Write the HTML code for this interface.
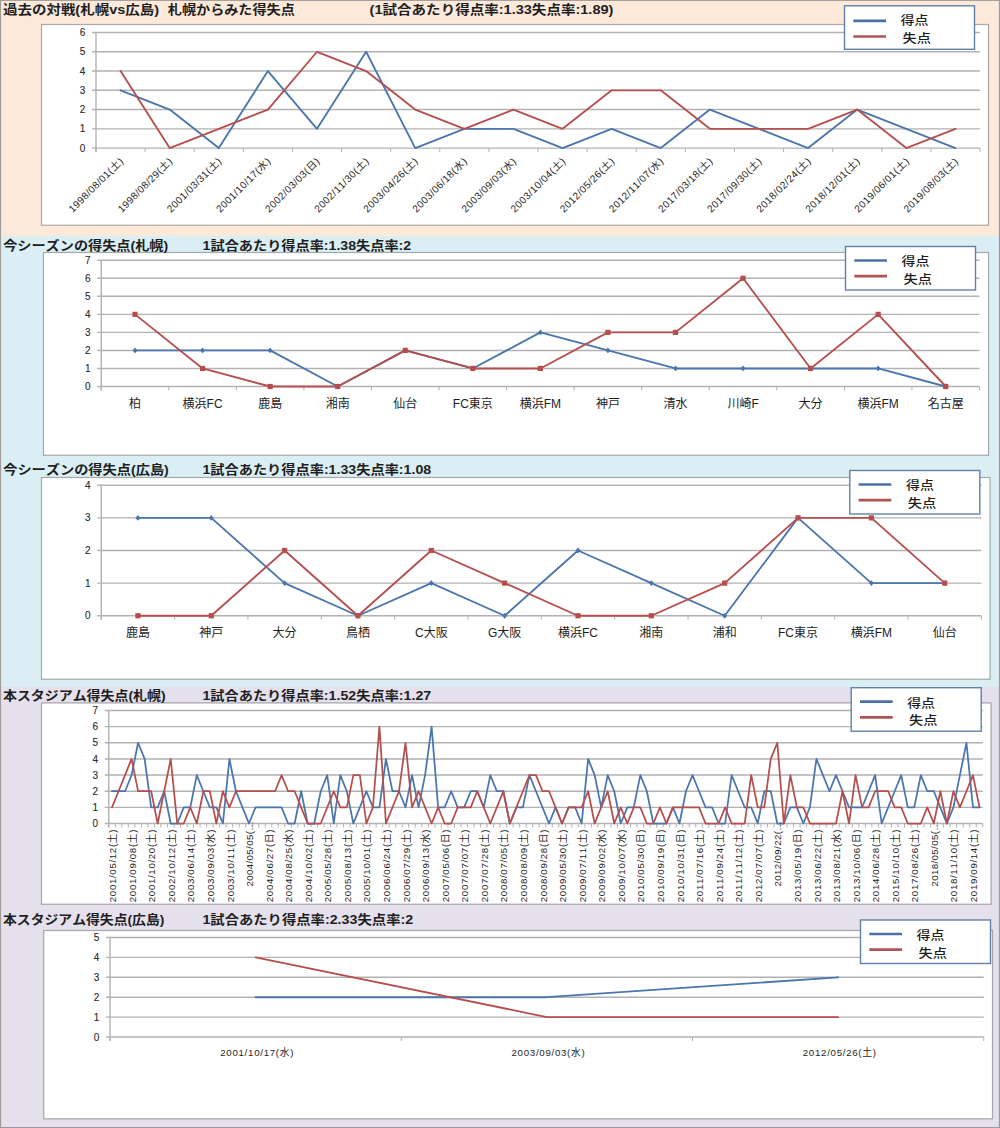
<!DOCTYPE html>
<html lang="ja"><head><meta charset="utf-8"><title>得失点</title>
<style>
html,body{margin:0;padding:0;background:#fff;}
body{width:1000px;height:1128px;overflow:hidden;}
svg{display:block;}
text{font-kerning:none;}
</style></head><body>
<svg width="1000" height="1128" viewBox="0 0 1000 1128">
<rect x="0" y="0" width="1000" height="236" fill="#FCE9DA"/>
<rect x="0" y="236" width="1000" height="451" fill="#DAEEF3"/>
<rect x="0" y="687" width="1000" height="441" fill="#E4E0EC"/>
<line x1="0.5" y1="0" x2="0.5" y2="1128" stroke="#A09A98" stroke-width="1.2"/>
<line x1="999.5" y1="0" x2="999.5" y2="1128" stroke="#9A98A0" stroke-width="1.2"/>
<line x1="0" y1="0.5" x2="1000" y2="0.5" stroke="#A8A09C" stroke-width="1"/>
<line x1="0" y1="1127.5" x2="1000" y2="1127.5" stroke="#9A98A0" stroke-width="1"/>
<rect x="41.5" y="24.5" width="947" height="200.7" fill="#FFFFFF" stroke="rgba(0,0,0,0.31)" stroke-width="1.2"/>
<line x1="92" y1="148.1" x2="980" y2="148.1" stroke="#B2B2B2" stroke-width="1.4"/>
<text x="85.4" y="151.7" font-size="10" text-anchor="end" font-weight="normal" font-family="'Liberation Sans', 'Noto Sans CJK JP', sans-serif" fill="#1E1E1E" stroke="#444" stroke-width="0.12">0</text>
<line x1="92" y1="128.83" x2="980" y2="128.83" stroke="#B2B2B2" stroke-width="1.4"/>
<text x="85.4" y="132.43" font-size="10" text-anchor="end" font-weight="normal" font-family="'Liberation Sans', 'Noto Sans CJK JP', sans-serif" fill="#1E1E1E" stroke="#444" stroke-width="0.12">1</text>
<line x1="92" y1="109.57" x2="980" y2="109.57" stroke="#B2B2B2" stroke-width="1.4"/>
<text x="85.4" y="113.17" font-size="10" text-anchor="end" font-weight="normal" font-family="'Liberation Sans', 'Noto Sans CJK JP', sans-serif" fill="#1E1E1E" stroke="#444" stroke-width="0.12">2</text>
<line x1="92" y1="90.3" x2="980" y2="90.3" stroke="#B2B2B2" stroke-width="1.4"/>
<text x="85.4" y="93.9" font-size="10" text-anchor="end" font-weight="normal" font-family="'Liberation Sans', 'Noto Sans CJK JP', sans-serif" fill="#1E1E1E" stroke="#444" stroke-width="0.12">3</text>
<line x1="92" y1="71.03" x2="980" y2="71.03" stroke="#B2B2B2" stroke-width="1.4"/>
<text x="85.4" y="74.63" font-size="10" text-anchor="end" font-weight="normal" font-family="'Liberation Sans', 'Noto Sans CJK JP', sans-serif" fill="#1E1E1E" stroke="#444" stroke-width="0.12">4</text>
<line x1="92" y1="51.77" x2="980" y2="51.77" stroke="#B2B2B2" stroke-width="1.4"/>
<text x="85.4" y="55.37" font-size="10" text-anchor="end" font-weight="normal" font-family="'Liberation Sans', 'Noto Sans CJK JP', sans-serif" fill="#1E1E1E" stroke="#444" stroke-width="0.12">5</text>
<line x1="92" y1="32.5" x2="980" y2="32.5" stroke="#B2B2B2" stroke-width="1.4"/>
<text x="85.4" y="36.1" font-size="10" text-anchor="end" font-weight="normal" font-family="'Liberation Sans', 'Noto Sans CJK JP', sans-serif" fill="#1E1E1E" stroke="#444" stroke-width="0.12">6</text>
<line x1="96" y1="32.5" x2="96" y2="152.1" stroke="#B2B2B2" stroke-width="1.4"/>
<line x1="96" y1="148.1" x2="96" y2="152.1" stroke="#B2B2B2" stroke-width="1"/>
<line x1="145.11" y1="148.1" x2="145.11" y2="152.1" stroke="#B2B2B2" stroke-width="1"/>
<line x1="194.22" y1="148.1" x2="194.22" y2="152.1" stroke="#B2B2B2" stroke-width="1"/>
<line x1="243.33" y1="148.1" x2="243.33" y2="152.1" stroke="#B2B2B2" stroke-width="1"/>
<line x1="292.44" y1="148.1" x2="292.44" y2="152.1" stroke="#B2B2B2" stroke-width="1"/>
<line x1="341.56" y1="148.1" x2="341.56" y2="152.1" stroke="#B2B2B2" stroke-width="1"/>
<line x1="390.67" y1="148.1" x2="390.67" y2="152.1" stroke="#B2B2B2" stroke-width="1"/>
<line x1="439.78" y1="148.1" x2="439.78" y2="152.1" stroke="#B2B2B2" stroke-width="1"/>
<line x1="488.89" y1="148.1" x2="488.89" y2="152.1" stroke="#B2B2B2" stroke-width="1"/>
<line x1="538" y1="148.1" x2="538" y2="152.1" stroke="#B2B2B2" stroke-width="1"/>
<line x1="587.11" y1="148.1" x2="587.11" y2="152.1" stroke="#B2B2B2" stroke-width="1"/>
<line x1="636.22" y1="148.1" x2="636.22" y2="152.1" stroke="#B2B2B2" stroke-width="1"/>
<line x1="685.33" y1="148.1" x2="685.33" y2="152.1" stroke="#B2B2B2" stroke-width="1"/>
<line x1="734.44" y1="148.1" x2="734.44" y2="152.1" stroke="#B2B2B2" stroke-width="1"/>
<line x1="783.56" y1="148.1" x2="783.56" y2="152.1" stroke="#B2B2B2" stroke-width="1"/>
<line x1="832.67" y1="148.1" x2="832.67" y2="152.1" stroke="#B2B2B2" stroke-width="1"/>
<line x1="881.78" y1="148.1" x2="881.78" y2="152.1" stroke="#B2B2B2" stroke-width="1"/>
<line x1="930.89" y1="148.1" x2="930.89" y2="152.1" stroke="#B2B2B2" stroke-width="1"/>
<line x1="980" y1="148.1" x2="980" y2="152.1" stroke="#B2B2B2" stroke-width="1"/>
<polyline points="120.56,90.3 169.67,109.57 218.78,148.1 267.89,71.03 317,128.83 366.11,51.77 415.22,148.1 464.33,128.83 513.44,128.83 562.56,148.1 611.67,128.83 660.78,148.1 709.89,109.57 759,128.83 808.11,148.1 857.22,109.57 906.33,128.83 955.44,148.1" fill="none" stroke="#4A76AD" stroke-width="1.85" stroke-linejoin="round" stroke-linecap="round"/>
<polyline points="120.56,71.03 169.67,148.1 218.78,128.83 267.89,109.57 317,51.77 366.11,71.03 415.22,109.57 464.33,128.83 513.44,109.57 562.56,128.83 611.67,90.3 660.78,90.3 709.89,128.83 759,128.83 808.11,128.83 857.22,109.57 906.33,148.1 955.44,128.83" fill="none" stroke="#B64E4D" stroke-width="1.85" stroke-linejoin="round" stroke-linecap="round"/>
<text x="123.76" y="162" font-size="10" text-anchor="end" font-weight="normal" font-family="'Liberation Sans', 'Noto Sans CJK JP', sans-serif" fill="#1E1E1E" textLength="72" lengthAdjust="spacing" transform="rotate(-45 123.76 162)">1998/08/01(土)</text>
<text x="172.87" y="162" font-size="10" text-anchor="end" font-weight="normal" font-family="'Liberation Sans', 'Noto Sans CJK JP', sans-serif" fill="#1E1E1E" textLength="72" lengthAdjust="spacing" transform="rotate(-45 172.87 162)">1998/08/29(土)</text>
<text x="221.98" y="162" font-size="10" text-anchor="end" font-weight="normal" font-family="'Liberation Sans', 'Noto Sans CJK JP', sans-serif" fill="#1E1E1E" textLength="72" lengthAdjust="spacing" transform="rotate(-45 221.98 162)">2001/03/31(土)</text>
<text x="271.09" y="162" font-size="10" text-anchor="end" font-weight="normal" font-family="'Liberation Sans', 'Noto Sans CJK JP', sans-serif" fill="#1E1E1E" textLength="72" lengthAdjust="spacing" transform="rotate(-45 271.09 162)">2001/10/17(水)</text>
<text x="320.2" y="162" font-size="10" text-anchor="end" font-weight="normal" font-family="'Liberation Sans', 'Noto Sans CJK JP', sans-serif" fill="#1E1E1E" textLength="72" lengthAdjust="spacing" transform="rotate(-45 320.2 162)">2002/03/03(日)</text>
<text x="369.31" y="162" font-size="10" text-anchor="end" font-weight="normal" font-family="'Liberation Sans', 'Noto Sans CJK JP', sans-serif" fill="#1E1E1E" textLength="72" lengthAdjust="spacing" transform="rotate(-45 369.31 162)">2002/11/30(土)</text>
<text x="418.42" y="162" font-size="10" text-anchor="end" font-weight="normal" font-family="'Liberation Sans', 'Noto Sans CJK JP', sans-serif" fill="#1E1E1E" textLength="72" lengthAdjust="spacing" transform="rotate(-45 418.42 162)">2003/04/26(土)</text>
<text x="467.53" y="162" font-size="10" text-anchor="end" font-weight="normal" font-family="'Liberation Sans', 'Noto Sans CJK JP', sans-serif" fill="#1E1E1E" textLength="72" lengthAdjust="spacing" transform="rotate(-45 467.53 162)">2003/06/18(水)</text>
<text x="516.64" y="162" font-size="10" text-anchor="end" font-weight="normal" font-family="'Liberation Sans', 'Noto Sans CJK JP', sans-serif" fill="#1E1E1E" textLength="72" lengthAdjust="spacing" transform="rotate(-45 516.64 162)">2003/09/03(水)</text>
<text x="565.76" y="162" font-size="10" text-anchor="end" font-weight="normal" font-family="'Liberation Sans', 'Noto Sans CJK JP', sans-serif" fill="#1E1E1E" textLength="72" lengthAdjust="spacing" transform="rotate(-45 565.76 162)">2003/10/04(土)</text>
<text x="614.87" y="162" font-size="10" text-anchor="end" font-weight="normal" font-family="'Liberation Sans', 'Noto Sans CJK JP', sans-serif" fill="#1E1E1E" textLength="72" lengthAdjust="spacing" transform="rotate(-45 614.87 162)">2012/05/26(土)</text>
<text x="663.98" y="162" font-size="10" text-anchor="end" font-weight="normal" font-family="'Liberation Sans', 'Noto Sans CJK JP', sans-serif" fill="#1E1E1E" textLength="72" lengthAdjust="spacing" transform="rotate(-45 663.98 162)">2012/11/07(水)</text>
<text x="713.09" y="162" font-size="10" text-anchor="end" font-weight="normal" font-family="'Liberation Sans', 'Noto Sans CJK JP', sans-serif" fill="#1E1E1E" textLength="72" lengthAdjust="spacing" transform="rotate(-45 713.09 162)">2017/03/18(土)</text>
<text x="762.2" y="162" font-size="10" text-anchor="end" font-weight="normal" font-family="'Liberation Sans', 'Noto Sans CJK JP', sans-serif" fill="#1E1E1E" textLength="72" lengthAdjust="spacing" transform="rotate(-45 762.2 162)">2017/09/30(土)</text>
<text x="811.31" y="162" font-size="10" text-anchor="end" font-weight="normal" font-family="'Liberation Sans', 'Noto Sans CJK JP', sans-serif" fill="#1E1E1E" textLength="72" lengthAdjust="spacing" transform="rotate(-45 811.31 162)">2018/02/24(土)</text>
<text x="860.42" y="162" font-size="10" text-anchor="end" font-weight="normal" font-family="'Liberation Sans', 'Noto Sans CJK JP', sans-serif" fill="#1E1E1E" textLength="72" lengthAdjust="spacing" transform="rotate(-45 860.42 162)">2018/12/01(土)</text>
<text x="909.53" y="162" font-size="10" text-anchor="end" font-weight="normal" font-family="'Liberation Sans', 'Noto Sans CJK JP', sans-serif" fill="#1E1E1E" textLength="72" lengthAdjust="spacing" transform="rotate(-45 909.53 162)">2019/06/01(土)</text>
<text x="958.64" y="162" font-size="10" text-anchor="end" font-weight="normal" font-family="'Liberation Sans', 'Noto Sans CJK JP', sans-serif" fill="#1E1E1E" textLength="72" lengthAdjust="spacing" transform="rotate(-45 958.64 162)">2019/08/03(土)</text>
<rect x="844.5" y="5.8" width="130" height="43.5" fill="#FFFFFF" stroke="#6381A8" stroke-width="1.4"/>
<line x1="853.3" y1="20.9" x2="886" y2="20.9" stroke="#4B70A5" stroke-width="2.7"/>
<line x1="853.3" y1="36.5" x2="886" y2="36.5" stroke="#AE5452" stroke-width="2.7"/>
<text x="900.6" y="25.45" font-size="12.3" text-anchor="start" font-weight="500" font-family="'Liberation Sans', 'Noto Sans CJK JP', sans-serif" fill="#1E1E1E" textLength="27.82" lengthAdjust="spacingAndGlyphs">得点</text>
<text x="902.4" y="43.15" font-size="12.3" text-anchor="start" font-weight="500" font-family="'Liberation Sans', 'Noto Sans CJK JP', sans-serif" fill="#1E1E1E" textLength="28.51" lengthAdjust="spacingAndGlyphs">失点</text>
<text x="3" y="13.75" font-size="12.8" text-anchor="start" font-weight="bold" font-family="'Liberation Sans', 'Noto Sans CJK JP', sans-serif" fill="#1E1E1E" textLength="156.01" lengthAdjust="spacingAndGlyphs">過去の対戦(札幌vs広島)</text>
<text x="167.8" y="13.75" font-size="12.8" text-anchor="start" font-weight="bold" font-family="'Liberation Sans', 'Noto Sans CJK JP', sans-serif" fill="#1E1E1E" textLength="126.99" lengthAdjust="spacingAndGlyphs">札幌からみた得失点</text>
<text x="369.6" y="13.75" font-size="12.8" text-anchor="start" font-weight="bold" font-family="'Liberation Sans', 'Noto Sans CJK JP', sans-serif" fill="#1E1E1E" textLength="243.81" lengthAdjust="spacingAndGlyphs">(1試合あたり得点率:1.33失点率:1.89)</text>
<rect x="43.5" y="252.5" width="945" height="202.7" fill="#FFFFFF" stroke="rgba(0,0,0,0.31)" stroke-width="1.2"/>
<line x1="97.25" y1="386.5" x2="979.5" y2="386.5" stroke="#B2B2B2" stroke-width="1.4"/>
<text x="90.65" y="390.1" font-size="10" text-anchor="end" font-weight="normal" font-family="'Liberation Sans', 'Noto Sans CJK JP', sans-serif" fill="#1E1E1E" stroke="#444" stroke-width="0.12">0</text>
<line x1="97.25" y1="368.46" x2="979.5" y2="368.46" stroke="#B2B2B2" stroke-width="1.4"/>
<text x="90.65" y="372.06" font-size="10" text-anchor="end" font-weight="normal" font-family="'Liberation Sans', 'Noto Sans CJK JP', sans-serif" fill="#1E1E1E" stroke="#444" stroke-width="0.12">1</text>
<line x1="97.25" y1="350.43" x2="979.5" y2="350.43" stroke="#B2B2B2" stroke-width="1.4"/>
<text x="90.65" y="354.03" font-size="10" text-anchor="end" font-weight="normal" font-family="'Liberation Sans', 'Noto Sans CJK JP', sans-serif" fill="#1E1E1E" stroke="#444" stroke-width="0.12">2</text>
<line x1="97.25" y1="332.39" x2="979.5" y2="332.39" stroke="#B2B2B2" stroke-width="1.4"/>
<text x="90.65" y="335.99" font-size="10" text-anchor="end" font-weight="normal" font-family="'Liberation Sans', 'Noto Sans CJK JP', sans-serif" fill="#1E1E1E" stroke="#444" stroke-width="0.12">3</text>
<line x1="97.25" y1="314.36" x2="979.5" y2="314.36" stroke="#B2B2B2" stroke-width="1.4"/>
<text x="90.65" y="317.96" font-size="10" text-anchor="end" font-weight="normal" font-family="'Liberation Sans', 'Noto Sans CJK JP', sans-serif" fill="#1E1E1E" stroke="#444" stroke-width="0.12">4</text>
<line x1="97.25" y1="296.32" x2="979.5" y2="296.32" stroke="#B2B2B2" stroke-width="1.4"/>
<text x="90.65" y="299.92" font-size="10" text-anchor="end" font-weight="normal" font-family="'Liberation Sans', 'Noto Sans CJK JP', sans-serif" fill="#1E1E1E" stroke="#444" stroke-width="0.12">5</text>
<line x1="97.25" y1="278.29" x2="979.5" y2="278.29" stroke="#B2B2B2" stroke-width="1.4"/>
<text x="90.65" y="281.89" font-size="10" text-anchor="end" font-weight="normal" font-family="'Liberation Sans', 'Noto Sans CJK JP', sans-serif" fill="#1E1E1E" stroke="#444" stroke-width="0.12">6</text>
<line x1="97.25" y1="260.25" x2="979.5" y2="260.25" stroke="#B2B2B2" stroke-width="1.4"/>
<text x="90.65" y="263.85" font-size="10" text-anchor="end" font-weight="normal" font-family="'Liberation Sans', 'Noto Sans CJK JP', sans-serif" fill="#1E1E1E" stroke="#444" stroke-width="0.12">7</text>
<line x1="101.25" y1="260.25" x2="101.25" y2="390.5" stroke="#B2B2B2" stroke-width="1.4"/>
<line x1="101.25" y1="386.5" x2="101.25" y2="390.5" stroke="#B2B2B2" stroke-width="1"/>
<line x1="168.81" y1="386.5" x2="168.81" y2="390.5" stroke="#B2B2B2" stroke-width="1"/>
<line x1="236.37" y1="386.5" x2="236.37" y2="390.5" stroke="#B2B2B2" stroke-width="1"/>
<line x1="303.92" y1="386.5" x2="303.92" y2="390.5" stroke="#B2B2B2" stroke-width="1"/>
<line x1="371.48" y1="386.5" x2="371.48" y2="390.5" stroke="#B2B2B2" stroke-width="1"/>
<line x1="439.04" y1="386.5" x2="439.04" y2="390.5" stroke="#B2B2B2" stroke-width="1"/>
<line x1="506.6" y1="386.5" x2="506.6" y2="390.5" stroke="#B2B2B2" stroke-width="1"/>
<line x1="574.15" y1="386.5" x2="574.15" y2="390.5" stroke="#B2B2B2" stroke-width="1"/>
<line x1="641.71" y1="386.5" x2="641.71" y2="390.5" stroke="#B2B2B2" stroke-width="1"/>
<line x1="709.27" y1="386.5" x2="709.27" y2="390.5" stroke="#B2B2B2" stroke-width="1"/>
<line x1="776.83" y1="386.5" x2="776.83" y2="390.5" stroke="#B2B2B2" stroke-width="1"/>
<line x1="844.38" y1="386.5" x2="844.38" y2="390.5" stroke="#B2B2B2" stroke-width="1"/>
<line x1="911.94" y1="386.5" x2="911.94" y2="390.5" stroke="#B2B2B2" stroke-width="1"/>
<line x1="979.5" y1="386.5" x2="979.5" y2="390.5" stroke="#B2B2B2" stroke-width="1"/>
<polyline points="135.03,350.43 202.59,350.43 270.14,350.43 337.7,386.5 405.26,350.43 472.82,368.46 540.38,332.39 607.93,350.43 675.49,368.46 743.05,368.46 810.61,368.46 878.16,368.46 945.72,386.5" fill="none" stroke="#4A76AD" stroke-width="1.85" stroke-linejoin="round" stroke-linecap="round"/>
<path d="M135.03 347.53L137.53 350.43L135.03 353.33L132.53 350.43Z" fill="#4A76AD"/>
<path d="M202.59 347.53L205.09 350.43L202.59 353.33L200.09 350.43Z" fill="#4A76AD"/>
<path d="M270.14 347.53L272.64 350.43L270.14 353.33L267.64 350.43Z" fill="#4A76AD"/>
<path d="M337.7 383.6L340.2 386.5L337.7 389.4L335.2 386.5Z" fill="#4A76AD"/>
<path d="M405.26 347.53L407.76 350.43L405.26 353.33L402.76 350.43Z" fill="#4A76AD"/>
<path d="M472.82 365.56L475.32 368.46L472.82 371.36L470.32 368.46Z" fill="#4A76AD"/>
<path d="M540.38 329.49L542.88 332.39L540.38 335.29L537.88 332.39Z" fill="#4A76AD"/>
<path d="M607.93 347.53L610.43 350.43L607.93 353.33L605.43 350.43Z" fill="#4A76AD"/>
<path d="M675.49 365.56L677.99 368.46L675.49 371.36L672.99 368.46Z" fill="#4A76AD"/>
<path d="M743.05 365.56L745.55 368.46L743.05 371.36L740.55 368.46Z" fill="#4A76AD"/>
<path d="M810.61 365.56L813.11 368.46L810.61 371.36L808.11 368.46Z" fill="#4A76AD"/>
<path d="M878.16 365.56L880.66 368.46L878.16 371.36L875.66 368.46Z" fill="#4A76AD"/>
<path d="M945.72 383.6L948.22 386.5L945.72 389.4L943.22 386.5Z" fill="#4A76AD"/>
<polyline points="135.03,314.36 202.59,368.46 270.14,386.5 337.7,386.5 405.26,350.43 472.82,368.46 540.38,368.46 607.93,332.39 675.49,332.39 743.05,278.29 810.61,368.46 878.16,314.36 945.72,386.5" fill="none" stroke="#B64E4D" stroke-width="1.85" stroke-linejoin="round" stroke-linecap="round"/>
<rect x="132.43" y="311.76" width="5.2" height="5.2" fill="#B64E4D"/>
<rect x="199.99" y="365.86" width="5.2" height="5.2" fill="#B64E4D"/>
<rect x="267.54" y="383.9" width="5.2" height="5.2" fill="#B64E4D"/>
<rect x="335.1" y="383.9" width="5.2" height="5.2" fill="#B64E4D"/>
<rect x="402.66" y="347.83" width="5.2" height="5.2" fill="#B64E4D"/>
<rect x="470.22" y="365.86" width="5.2" height="5.2" fill="#B64E4D"/>
<rect x="537.77" y="365.86" width="5.2" height="5.2" fill="#B64E4D"/>
<rect x="605.33" y="329.79" width="5.2" height="5.2" fill="#B64E4D"/>
<rect x="672.89" y="329.79" width="5.2" height="5.2" fill="#B64E4D"/>
<rect x="740.45" y="275.69" width="5.2" height="5.2" fill="#B64E4D"/>
<rect x="808.01" y="365.86" width="5.2" height="5.2" fill="#B64E4D"/>
<rect x="875.56" y="311.76" width="5.2" height="5.2" fill="#B64E4D"/>
<rect x="943.12" y="383.9" width="5.2" height="5.2" fill="#B64E4D"/>
<text x="135.03" y="407.8" font-size="12" text-anchor="middle" font-weight="normal" font-family="'Liberation Sans', 'Noto Sans CJK JP', sans-serif" fill="#1E1E1E">柏</text>
<text x="202.59" y="407.8" font-size="12" text-anchor="middle" font-weight="normal" font-family="'Liberation Sans', 'Noto Sans CJK JP', sans-serif" fill="#1E1E1E">横浜FC</text>
<text x="270.14" y="407.8" font-size="12" text-anchor="middle" font-weight="normal" font-family="'Liberation Sans', 'Noto Sans CJK JP', sans-serif" fill="#1E1E1E">鹿島</text>
<text x="337.7" y="407.8" font-size="12" text-anchor="middle" font-weight="normal" font-family="'Liberation Sans', 'Noto Sans CJK JP', sans-serif" fill="#1E1E1E">湘南</text>
<text x="405.26" y="407.8" font-size="12" text-anchor="middle" font-weight="normal" font-family="'Liberation Sans', 'Noto Sans CJK JP', sans-serif" fill="#1E1E1E">仙台</text>
<text x="472.82" y="407.8" font-size="12" text-anchor="middle" font-weight="normal" font-family="'Liberation Sans', 'Noto Sans CJK JP', sans-serif" fill="#1E1E1E">FC東京</text>
<text x="540.38" y="407.8" font-size="12" text-anchor="middle" font-weight="normal" font-family="'Liberation Sans', 'Noto Sans CJK JP', sans-serif" fill="#1E1E1E">横浜FM</text>
<text x="607.93" y="407.8" font-size="12" text-anchor="middle" font-weight="normal" font-family="'Liberation Sans', 'Noto Sans CJK JP', sans-serif" fill="#1E1E1E">神戸</text>
<text x="675.49" y="407.8" font-size="12" text-anchor="middle" font-weight="normal" font-family="'Liberation Sans', 'Noto Sans CJK JP', sans-serif" fill="#1E1E1E">清水</text>
<text x="743.05" y="407.8" font-size="12" text-anchor="middle" font-weight="normal" font-family="'Liberation Sans', 'Noto Sans CJK JP', sans-serif" fill="#1E1E1E">川崎F</text>
<text x="810.61" y="407.8" font-size="12" text-anchor="middle" font-weight="normal" font-family="'Liberation Sans', 'Noto Sans CJK JP', sans-serif" fill="#1E1E1E">大分</text>
<text x="878.16" y="407.8" font-size="12" text-anchor="middle" font-weight="normal" font-family="'Liberation Sans', 'Noto Sans CJK JP', sans-serif" fill="#1E1E1E">横浜FM</text>
<text x="945.72" y="407.8" font-size="12" text-anchor="middle" font-weight="normal" font-family="'Liberation Sans', 'Noto Sans CJK JP', sans-serif" fill="#1E1E1E">名古屋</text>
<rect x="845.5" y="246.5" width="130" height="43.5" fill="#FFFFFF" stroke="#6381A8" stroke-width="1.4"/>
<line x1="854.3" y1="260.5" x2="887" y2="260.5" stroke="#4B70A5" stroke-width="2.7"/>
<line x1="854.3" y1="276.1" x2="887" y2="276.1" stroke="#AE5452" stroke-width="2.7"/>
<text x="901.6" y="266.05" font-size="12.3" text-anchor="start" font-weight="500" font-family="'Liberation Sans', 'Noto Sans CJK JP', sans-serif" fill="#1E1E1E" textLength="27.82" lengthAdjust="spacingAndGlyphs">得点</text>
<text x="903.4" y="283.75" font-size="12.3" text-anchor="start" font-weight="500" font-family="'Liberation Sans', 'Noto Sans CJK JP', sans-serif" fill="#1E1E1E" textLength="28.51" lengthAdjust="spacingAndGlyphs">失点</text>
<text x="3.2" y="249.6" font-size="12.8" text-anchor="start" font-weight="bold" font-family="'Liberation Sans', 'Noto Sans CJK JP', sans-serif" fill="#1E1E1E" textLength="164.99" lengthAdjust="spacingAndGlyphs">今シーズンの得失点(札幌)</text>
<text x="202.6" y="249.6" font-size="12.8" text-anchor="start" font-weight="bold" font-family="'Liberation Sans', 'Noto Sans CJK JP', sans-serif" fill="#1E1E1E" textLength="208.6" lengthAdjust="spacingAndGlyphs">1試合あたり得点率:1.38失点率:2</text>
<rect x="41.5" y="477.5" width="948.5" height="201.7" fill="#FFFFFF" stroke="rgba(0,0,0,0.31)" stroke-width="1.2"/>
<line x1="97.25" y1="615.75" x2="981.4" y2="615.75" stroke="#B2B2B2" stroke-width="1.4"/>
<text x="90.65" y="619.35" font-size="10" text-anchor="end" font-weight="normal" font-family="'Liberation Sans', 'Noto Sans CJK JP', sans-serif" fill="#1E1E1E" stroke="#444" stroke-width="0.12">0</text>
<line x1="97.25" y1="583.12" x2="981.4" y2="583.12" stroke="#B2B2B2" stroke-width="1.4"/>
<text x="90.65" y="586.73" font-size="10" text-anchor="end" font-weight="normal" font-family="'Liberation Sans', 'Noto Sans CJK JP', sans-serif" fill="#1E1E1E" stroke="#444" stroke-width="0.12">1</text>
<line x1="97.25" y1="550.5" x2="981.4" y2="550.5" stroke="#B2B2B2" stroke-width="1.4"/>
<text x="90.65" y="554.1" font-size="10" text-anchor="end" font-weight="normal" font-family="'Liberation Sans', 'Noto Sans CJK JP', sans-serif" fill="#1E1E1E" stroke="#444" stroke-width="0.12">2</text>
<line x1="97.25" y1="517.88" x2="981.4" y2="517.88" stroke="#B2B2B2" stroke-width="1.4"/>
<text x="90.65" y="521.48" font-size="10" text-anchor="end" font-weight="normal" font-family="'Liberation Sans', 'Noto Sans CJK JP', sans-serif" fill="#1E1E1E" stroke="#444" stroke-width="0.12">3</text>
<line x1="97.25" y1="485.25" x2="981.4" y2="485.25" stroke="#B2B2B2" stroke-width="1.4"/>
<text x="90.65" y="488.85" font-size="10" text-anchor="end" font-weight="normal" font-family="'Liberation Sans', 'Noto Sans CJK JP', sans-serif" fill="#1E1E1E" stroke="#444" stroke-width="0.12">4</text>
<line x1="101.25" y1="485.25" x2="101.25" y2="619.75" stroke="#B2B2B2" stroke-width="1.4"/>
<line x1="101.25" y1="615.75" x2="101.25" y2="619.75" stroke="#B2B2B2" stroke-width="1"/>
<line x1="174.6" y1="615.75" x2="174.6" y2="619.75" stroke="#B2B2B2" stroke-width="1"/>
<line x1="247.94" y1="615.75" x2="247.94" y2="619.75" stroke="#B2B2B2" stroke-width="1"/>
<line x1="321.29" y1="615.75" x2="321.29" y2="619.75" stroke="#B2B2B2" stroke-width="1"/>
<line x1="394.63" y1="615.75" x2="394.63" y2="619.75" stroke="#B2B2B2" stroke-width="1"/>
<line x1="467.98" y1="615.75" x2="467.98" y2="619.75" stroke="#B2B2B2" stroke-width="1"/>
<line x1="541.33" y1="615.75" x2="541.33" y2="619.75" stroke="#B2B2B2" stroke-width="1"/>
<line x1="614.67" y1="615.75" x2="614.67" y2="619.75" stroke="#B2B2B2" stroke-width="1"/>
<line x1="688.02" y1="615.75" x2="688.02" y2="619.75" stroke="#B2B2B2" stroke-width="1"/>
<line x1="761.36" y1="615.75" x2="761.36" y2="619.75" stroke="#B2B2B2" stroke-width="1"/>
<line x1="834.71" y1="615.75" x2="834.71" y2="619.75" stroke="#B2B2B2" stroke-width="1"/>
<line x1="908.05" y1="615.75" x2="908.05" y2="619.75" stroke="#B2B2B2" stroke-width="1"/>
<line x1="981.4" y1="615.75" x2="981.4" y2="619.75" stroke="#B2B2B2" stroke-width="1"/>
<polyline points="137.92,517.88 211.27,517.88 284.61,583.12 357.96,615.75 431.31,583.12 504.65,615.75 578,550.5 651.34,583.12 724.69,615.75 798.04,517.88 871.38,583.12 944.73,583.12" fill="none" stroke="#4A76AD" stroke-width="1.85" stroke-linejoin="round" stroke-linecap="round"/>
<path d="M137.92 514.98L140.42 517.88L137.92 520.77L135.42 517.88Z" fill="#4A76AD"/>
<path d="M211.27 514.98L213.77 517.88L211.27 520.77L208.77 517.88Z" fill="#4A76AD"/>
<path d="M284.61 580.23L287.11 583.12L284.61 586.02L282.11 583.12Z" fill="#4A76AD"/>
<path d="M357.96 612.85L360.46 615.75L357.96 618.65L355.46 615.75Z" fill="#4A76AD"/>
<path d="M431.31 580.23L433.81 583.12L431.31 586.02L428.81 583.12Z" fill="#4A76AD"/>
<path d="M504.65 612.85L507.15 615.75L504.65 618.65L502.15 615.75Z" fill="#4A76AD"/>
<path d="M578 547.6L580.5 550.5L578 553.4L575.5 550.5Z" fill="#4A76AD"/>
<path d="M651.34 580.23L653.84 583.12L651.34 586.02L648.84 583.12Z" fill="#4A76AD"/>
<path d="M724.69 612.85L727.19 615.75L724.69 618.65L722.19 615.75Z" fill="#4A76AD"/>
<path d="M798.04 514.98L800.54 517.88L798.04 520.77L795.54 517.88Z" fill="#4A76AD"/>
<path d="M871.38 580.23L873.88 583.12L871.38 586.02L868.88 583.12Z" fill="#4A76AD"/>
<path d="M944.73 580.23L947.23 583.12L944.73 586.02L942.23 583.12Z" fill="#4A76AD"/>
<polyline points="137.92,615.75 211.27,615.75 284.61,550.5 357.96,615.75 431.31,550.5 504.65,583.12 578,615.75 651.34,615.75 724.69,583.12 798.04,517.88 871.38,517.88 944.73,583.12" fill="none" stroke="#B64E4D" stroke-width="1.85" stroke-linejoin="round" stroke-linecap="round"/>
<rect x="135.32" y="613.15" width="5.2" height="5.2" fill="#B64E4D"/>
<rect x="208.67" y="613.15" width="5.2" height="5.2" fill="#B64E4D"/>
<rect x="282.01" y="547.9" width="5.2" height="5.2" fill="#B64E4D"/>
<rect x="355.36" y="613.15" width="5.2" height="5.2" fill="#B64E4D"/>
<rect x="428.71" y="547.9" width="5.2" height="5.2" fill="#B64E4D"/>
<rect x="502.05" y="580.52" width="5.2" height="5.2" fill="#B64E4D"/>
<rect x="575.4" y="613.15" width="5.2" height="5.2" fill="#B64E4D"/>
<rect x="648.74" y="613.15" width="5.2" height="5.2" fill="#B64E4D"/>
<rect x="722.09" y="580.52" width="5.2" height="5.2" fill="#B64E4D"/>
<rect x="795.44" y="515.27" width="5.2" height="5.2" fill="#B64E4D"/>
<rect x="868.78" y="515.27" width="5.2" height="5.2" fill="#B64E4D"/>
<rect x="942.13" y="580.52" width="5.2" height="5.2" fill="#B64E4D"/>
<text x="137.92" y="637.4" font-size="12" text-anchor="middle" font-weight="normal" font-family="'Liberation Sans', 'Noto Sans CJK JP', sans-serif" fill="#1E1E1E">鹿島</text>
<text x="211.27" y="637.4" font-size="12" text-anchor="middle" font-weight="normal" font-family="'Liberation Sans', 'Noto Sans CJK JP', sans-serif" fill="#1E1E1E">神戸</text>
<text x="284.61" y="637.4" font-size="12" text-anchor="middle" font-weight="normal" font-family="'Liberation Sans', 'Noto Sans CJK JP', sans-serif" fill="#1E1E1E">大分</text>
<text x="357.96" y="637.4" font-size="12" text-anchor="middle" font-weight="normal" font-family="'Liberation Sans', 'Noto Sans CJK JP', sans-serif" fill="#1E1E1E">鳥栖</text>
<text x="431.31" y="637.4" font-size="12" text-anchor="middle" font-weight="normal" font-family="'Liberation Sans', 'Noto Sans CJK JP', sans-serif" fill="#1E1E1E">C大阪</text>
<text x="504.65" y="637.4" font-size="12" text-anchor="middle" font-weight="normal" font-family="'Liberation Sans', 'Noto Sans CJK JP', sans-serif" fill="#1E1E1E">G大阪</text>
<text x="578" y="637.4" font-size="12" text-anchor="middle" font-weight="normal" font-family="'Liberation Sans', 'Noto Sans CJK JP', sans-serif" fill="#1E1E1E">横浜FC</text>
<text x="651.34" y="637.4" font-size="12" text-anchor="middle" font-weight="normal" font-family="'Liberation Sans', 'Noto Sans CJK JP', sans-serif" fill="#1E1E1E">湘南</text>
<text x="724.69" y="637.4" font-size="12" text-anchor="middle" font-weight="normal" font-family="'Liberation Sans', 'Noto Sans CJK JP', sans-serif" fill="#1E1E1E">浦和</text>
<text x="798.04" y="637.4" font-size="12" text-anchor="middle" font-weight="normal" font-family="'Liberation Sans', 'Noto Sans CJK JP', sans-serif" fill="#1E1E1E">FC東京</text>
<text x="871.38" y="637.4" font-size="12" text-anchor="middle" font-weight="normal" font-family="'Liberation Sans', 'Noto Sans CJK JP', sans-serif" fill="#1E1E1E">横浜FM</text>
<text x="944.73" y="637.4" font-size="12" text-anchor="middle" font-weight="normal" font-family="'Liberation Sans', 'Noto Sans CJK JP', sans-serif" fill="#1E1E1E">仙台</text>
<rect x="849.8" y="470.5" width="130" height="43.5" fill="#FFFFFF" stroke="#6381A8" stroke-width="1.4"/>
<line x1="858.6" y1="484.5" x2="891.3" y2="484.5" stroke="#4B70A5" stroke-width="2.7"/>
<line x1="858.6" y1="500.1" x2="891.3" y2="500.1" stroke="#AE5452" stroke-width="2.7"/>
<text x="906" y="490.05" font-size="12.3" text-anchor="start" font-weight="500" font-family="'Liberation Sans', 'Noto Sans CJK JP', sans-serif" fill="#1E1E1E" textLength="27.82" lengthAdjust="spacingAndGlyphs">得点</text>
<text x="907.8" y="507.75" font-size="12.3" text-anchor="start" font-weight="500" font-family="'Liberation Sans', 'Noto Sans CJK JP', sans-serif" fill="#1E1E1E" textLength="28.51" lengthAdjust="spacingAndGlyphs">失点</text>
<text x="3.2" y="474.4" font-size="12.8" text-anchor="start" font-weight="bold" font-family="'Liberation Sans', 'Noto Sans CJK JP', sans-serif" fill="#1E1E1E" textLength="165.64" lengthAdjust="spacingAndGlyphs">今シーズンの得失点(広島)</text>
<text x="202.4" y="474.4" font-size="12.8" text-anchor="start" font-weight="bold" font-family="'Liberation Sans', 'Noto Sans CJK JP', sans-serif" fill="#1E1E1E" textLength="228.81" lengthAdjust="spacingAndGlyphs">1試合あたり得点率:1.33失点率:1.08</text>
<rect x="41.5" y="703" width="949.5" height="201.2" fill="#FFFFFF" stroke="rgba(0,0,0,0.31)" stroke-width="1.2"/>
<line x1="104.75" y1="823.5" x2="982.75" y2="823.5" stroke="#B2B2B2" stroke-width="1.4"/>
<text x="98.15" y="827.1" font-size="10" text-anchor="end" font-weight="normal" font-family="'Liberation Sans', 'Noto Sans CJK JP', sans-serif" fill="#1E1E1E" stroke="#444" stroke-width="0.12">0</text>
<line x1="104.75" y1="807.36" x2="982.75" y2="807.36" stroke="#B2B2B2" stroke-width="1.4"/>
<text x="98.15" y="810.96" font-size="10" text-anchor="end" font-weight="normal" font-family="'Liberation Sans', 'Noto Sans CJK JP', sans-serif" fill="#1E1E1E" stroke="#444" stroke-width="0.12">1</text>
<line x1="104.75" y1="791.21" x2="982.75" y2="791.21" stroke="#B2B2B2" stroke-width="1.4"/>
<text x="98.15" y="794.81" font-size="10" text-anchor="end" font-weight="normal" font-family="'Liberation Sans', 'Noto Sans CJK JP', sans-serif" fill="#1E1E1E" stroke="#444" stroke-width="0.12">2</text>
<line x1="104.75" y1="775.07" x2="982.75" y2="775.07" stroke="#B2B2B2" stroke-width="1.4"/>
<text x="98.15" y="778.67" font-size="10" text-anchor="end" font-weight="normal" font-family="'Liberation Sans', 'Noto Sans CJK JP', sans-serif" fill="#1E1E1E" stroke="#444" stroke-width="0.12">3</text>
<line x1="104.75" y1="758.93" x2="982.75" y2="758.93" stroke="#B2B2B2" stroke-width="1.4"/>
<text x="98.15" y="762.53" font-size="10" text-anchor="end" font-weight="normal" font-family="'Liberation Sans', 'Noto Sans CJK JP', sans-serif" fill="#1E1E1E" stroke="#444" stroke-width="0.12">4</text>
<line x1="104.75" y1="742.79" x2="982.75" y2="742.79" stroke="#B2B2B2" stroke-width="1.4"/>
<text x="98.15" y="746.39" font-size="10" text-anchor="end" font-weight="normal" font-family="'Liberation Sans', 'Noto Sans CJK JP', sans-serif" fill="#1E1E1E" stroke="#444" stroke-width="0.12">5</text>
<line x1="104.75" y1="726.64" x2="982.75" y2="726.64" stroke="#B2B2B2" stroke-width="1.4"/>
<text x="98.15" y="730.24" font-size="10" text-anchor="end" font-weight="normal" font-family="'Liberation Sans', 'Noto Sans CJK JP', sans-serif" fill="#1E1E1E" stroke="#444" stroke-width="0.12">6</text>
<line x1="104.75" y1="710.5" x2="982.75" y2="710.5" stroke="#B2B2B2" stroke-width="1.4"/>
<text x="98.15" y="714.1" font-size="10" text-anchor="end" font-weight="normal" font-family="'Liberation Sans', 'Noto Sans CJK JP', sans-serif" fill="#1E1E1E" stroke="#444" stroke-width="0.12">7</text>
<line x1="108.75" y1="710.5" x2="108.75" y2="827.5" stroke="#B2B2B2" stroke-width="1.4"/>
<line x1="108.75" y1="823.5" x2="108.75" y2="827.5" stroke="#B2B2B2" stroke-width="1"/>
<line x1="115.27" y1="823.5" x2="115.27" y2="827.5" stroke="#B2B2B2" stroke-width="1"/>
<line x1="121.79" y1="823.5" x2="121.79" y2="827.5" stroke="#B2B2B2" stroke-width="1"/>
<line x1="128.32" y1="823.5" x2="128.32" y2="827.5" stroke="#B2B2B2" stroke-width="1"/>
<line x1="134.84" y1="823.5" x2="134.84" y2="827.5" stroke="#B2B2B2" stroke-width="1"/>
<line x1="141.36" y1="823.5" x2="141.36" y2="827.5" stroke="#B2B2B2" stroke-width="1"/>
<line x1="147.88" y1="823.5" x2="147.88" y2="827.5" stroke="#B2B2B2" stroke-width="1"/>
<line x1="154.41" y1="823.5" x2="154.41" y2="827.5" stroke="#B2B2B2" stroke-width="1"/>
<line x1="160.93" y1="823.5" x2="160.93" y2="827.5" stroke="#B2B2B2" stroke-width="1"/>
<line x1="167.45" y1="823.5" x2="167.45" y2="827.5" stroke="#B2B2B2" stroke-width="1"/>
<line x1="173.97" y1="823.5" x2="173.97" y2="827.5" stroke="#B2B2B2" stroke-width="1"/>
<line x1="180.5" y1="823.5" x2="180.5" y2="827.5" stroke="#B2B2B2" stroke-width="1"/>
<line x1="187.02" y1="823.5" x2="187.02" y2="827.5" stroke="#B2B2B2" stroke-width="1"/>
<line x1="193.54" y1="823.5" x2="193.54" y2="827.5" stroke="#B2B2B2" stroke-width="1"/>
<line x1="200.06" y1="823.5" x2="200.06" y2="827.5" stroke="#B2B2B2" stroke-width="1"/>
<line x1="206.59" y1="823.5" x2="206.59" y2="827.5" stroke="#B2B2B2" stroke-width="1"/>
<line x1="213.11" y1="823.5" x2="213.11" y2="827.5" stroke="#B2B2B2" stroke-width="1"/>
<line x1="219.63" y1="823.5" x2="219.63" y2="827.5" stroke="#B2B2B2" stroke-width="1"/>
<line x1="226.15" y1="823.5" x2="226.15" y2="827.5" stroke="#B2B2B2" stroke-width="1"/>
<line x1="232.68" y1="823.5" x2="232.68" y2="827.5" stroke="#B2B2B2" stroke-width="1"/>
<line x1="239.2" y1="823.5" x2="239.2" y2="827.5" stroke="#B2B2B2" stroke-width="1"/>
<line x1="245.72" y1="823.5" x2="245.72" y2="827.5" stroke="#B2B2B2" stroke-width="1"/>
<line x1="252.24" y1="823.5" x2="252.24" y2="827.5" stroke="#B2B2B2" stroke-width="1"/>
<line x1="258.76" y1="823.5" x2="258.76" y2="827.5" stroke="#B2B2B2" stroke-width="1"/>
<line x1="265.29" y1="823.5" x2="265.29" y2="827.5" stroke="#B2B2B2" stroke-width="1"/>
<line x1="271.81" y1="823.5" x2="271.81" y2="827.5" stroke="#B2B2B2" stroke-width="1"/>
<line x1="278.33" y1="823.5" x2="278.33" y2="827.5" stroke="#B2B2B2" stroke-width="1"/>
<line x1="284.85" y1="823.5" x2="284.85" y2="827.5" stroke="#B2B2B2" stroke-width="1"/>
<line x1="291.38" y1="823.5" x2="291.38" y2="827.5" stroke="#B2B2B2" stroke-width="1"/>
<line x1="297.9" y1="823.5" x2="297.9" y2="827.5" stroke="#B2B2B2" stroke-width="1"/>
<line x1="304.42" y1="823.5" x2="304.42" y2="827.5" stroke="#B2B2B2" stroke-width="1"/>
<line x1="310.94" y1="823.5" x2="310.94" y2="827.5" stroke="#B2B2B2" stroke-width="1"/>
<line x1="317.47" y1="823.5" x2="317.47" y2="827.5" stroke="#B2B2B2" stroke-width="1"/>
<line x1="323.99" y1="823.5" x2="323.99" y2="827.5" stroke="#B2B2B2" stroke-width="1"/>
<line x1="330.51" y1="823.5" x2="330.51" y2="827.5" stroke="#B2B2B2" stroke-width="1"/>
<line x1="337.03" y1="823.5" x2="337.03" y2="827.5" stroke="#B2B2B2" stroke-width="1"/>
<line x1="343.56" y1="823.5" x2="343.56" y2="827.5" stroke="#B2B2B2" stroke-width="1"/>
<line x1="350.08" y1="823.5" x2="350.08" y2="827.5" stroke="#B2B2B2" stroke-width="1"/>
<line x1="356.6" y1="823.5" x2="356.6" y2="827.5" stroke="#B2B2B2" stroke-width="1"/>
<line x1="363.12" y1="823.5" x2="363.12" y2="827.5" stroke="#B2B2B2" stroke-width="1"/>
<line x1="369.65" y1="823.5" x2="369.65" y2="827.5" stroke="#B2B2B2" stroke-width="1"/>
<line x1="376.17" y1="823.5" x2="376.17" y2="827.5" stroke="#B2B2B2" stroke-width="1"/>
<line x1="382.69" y1="823.5" x2="382.69" y2="827.5" stroke="#B2B2B2" stroke-width="1"/>
<line x1="389.21" y1="823.5" x2="389.21" y2="827.5" stroke="#B2B2B2" stroke-width="1"/>
<line x1="395.74" y1="823.5" x2="395.74" y2="827.5" stroke="#B2B2B2" stroke-width="1"/>
<line x1="402.26" y1="823.5" x2="402.26" y2="827.5" stroke="#B2B2B2" stroke-width="1"/>
<line x1="408.78" y1="823.5" x2="408.78" y2="827.5" stroke="#B2B2B2" stroke-width="1"/>
<line x1="415.3" y1="823.5" x2="415.3" y2="827.5" stroke="#B2B2B2" stroke-width="1"/>
<line x1="421.82" y1="823.5" x2="421.82" y2="827.5" stroke="#B2B2B2" stroke-width="1"/>
<line x1="428.35" y1="823.5" x2="428.35" y2="827.5" stroke="#B2B2B2" stroke-width="1"/>
<line x1="434.87" y1="823.5" x2="434.87" y2="827.5" stroke="#B2B2B2" stroke-width="1"/>
<line x1="441.39" y1="823.5" x2="441.39" y2="827.5" stroke="#B2B2B2" stroke-width="1"/>
<line x1="447.91" y1="823.5" x2="447.91" y2="827.5" stroke="#B2B2B2" stroke-width="1"/>
<line x1="454.44" y1="823.5" x2="454.44" y2="827.5" stroke="#B2B2B2" stroke-width="1"/>
<line x1="460.96" y1="823.5" x2="460.96" y2="827.5" stroke="#B2B2B2" stroke-width="1"/>
<line x1="467.48" y1="823.5" x2="467.48" y2="827.5" stroke="#B2B2B2" stroke-width="1"/>
<line x1="474" y1="823.5" x2="474" y2="827.5" stroke="#B2B2B2" stroke-width="1"/>
<line x1="480.53" y1="823.5" x2="480.53" y2="827.5" stroke="#B2B2B2" stroke-width="1"/>
<line x1="487.05" y1="823.5" x2="487.05" y2="827.5" stroke="#B2B2B2" stroke-width="1"/>
<line x1="493.57" y1="823.5" x2="493.57" y2="827.5" stroke="#B2B2B2" stroke-width="1"/>
<line x1="500.09" y1="823.5" x2="500.09" y2="827.5" stroke="#B2B2B2" stroke-width="1"/>
<line x1="506.62" y1="823.5" x2="506.62" y2="827.5" stroke="#B2B2B2" stroke-width="1"/>
<line x1="513.14" y1="823.5" x2="513.14" y2="827.5" stroke="#B2B2B2" stroke-width="1"/>
<line x1="519.66" y1="823.5" x2="519.66" y2="827.5" stroke="#B2B2B2" stroke-width="1"/>
<line x1="526.18" y1="823.5" x2="526.18" y2="827.5" stroke="#B2B2B2" stroke-width="1"/>
<line x1="532.71" y1="823.5" x2="532.71" y2="827.5" stroke="#B2B2B2" stroke-width="1"/>
<line x1="539.23" y1="823.5" x2="539.23" y2="827.5" stroke="#B2B2B2" stroke-width="1"/>
<line x1="545.75" y1="823.5" x2="545.75" y2="827.5" stroke="#B2B2B2" stroke-width="1"/>
<line x1="552.27" y1="823.5" x2="552.27" y2="827.5" stroke="#B2B2B2" stroke-width="1"/>
<line x1="558.79" y1="823.5" x2="558.79" y2="827.5" stroke="#B2B2B2" stroke-width="1"/>
<line x1="565.32" y1="823.5" x2="565.32" y2="827.5" stroke="#B2B2B2" stroke-width="1"/>
<line x1="571.84" y1="823.5" x2="571.84" y2="827.5" stroke="#B2B2B2" stroke-width="1"/>
<line x1="578.36" y1="823.5" x2="578.36" y2="827.5" stroke="#B2B2B2" stroke-width="1"/>
<line x1="584.88" y1="823.5" x2="584.88" y2="827.5" stroke="#B2B2B2" stroke-width="1"/>
<line x1="591.41" y1="823.5" x2="591.41" y2="827.5" stroke="#B2B2B2" stroke-width="1"/>
<line x1="597.93" y1="823.5" x2="597.93" y2="827.5" stroke="#B2B2B2" stroke-width="1"/>
<line x1="604.45" y1="823.5" x2="604.45" y2="827.5" stroke="#B2B2B2" stroke-width="1"/>
<line x1="610.97" y1="823.5" x2="610.97" y2="827.5" stroke="#B2B2B2" stroke-width="1"/>
<line x1="617.5" y1="823.5" x2="617.5" y2="827.5" stroke="#B2B2B2" stroke-width="1"/>
<line x1="624.02" y1="823.5" x2="624.02" y2="827.5" stroke="#B2B2B2" stroke-width="1"/>
<line x1="630.54" y1="823.5" x2="630.54" y2="827.5" stroke="#B2B2B2" stroke-width="1"/>
<line x1="637.06" y1="823.5" x2="637.06" y2="827.5" stroke="#B2B2B2" stroke-width="1"/>
<line x1="643.59" y1="823.5" x2="643.59" y2="827.5" stroke="#B2B2B2" stroke-width="1"/>
<line x1="650.11" y1="823.5" x2="650.11" y2="827.5" stroke="#B2B2B2" stroke-width="1"/>
<line x1="656.63" y1="823.5" x2="656.63" y2="827.5" stroke="#B2B2B2" stroke-width="1"/>
<line x1="663.15" y1="823.5" x2="663.15" y2="827.5" stroke="#B2B2B2" stroke-width="1"/>
<line x1="669.68" y1="823.5" x2="669.68" y2="827.5" stroke="#B2B2B2" stroke-width="1"/>
<line x1="676.2" y1="823.5" x2="676.2" y2="827.5" stroke="#B2B2B2" stroke-width="1"/>
<line x1="682.72" y1="823.5" x2="682.72" y2="827.5" stroke="#B2B2B2" stroke-width="1"/>
<line x1="689.24" y1="823.5" x2="689.24" y2="827.5" stroke="#B2B2B2" stroke-width="1"/>
<line x1="695.76" y1="823.5" x2="695.76" y2="827.5" stroke="#B2B2B2" stroke-width="1"/>
<line x1="702.29" y1="823.5" x2="702.29" y2="827.5" stroke="#B2B2B2" stroke-width="1"/>
<line x1="708.81" y1="823.5" x2="708.81" y2="827.5" stroke="#B2B2B2" stroke-width="1"/>
<line x1="715.33" y1="823.5" x2="715.33" y2="827.5" stroke="#B2B2B2" stroke-width="1"/>
<line x1="721.85" y1="823.5" x2="721.85" y2="827.5" stroke="#B2B2B2" stroke-width="1"/>
<line x1="728.38" y1="823.5" x2="728.38" y2="827.5" stroke="#B2B2B2" stroke-width="1"/>
<line x1="734.9" y1="823.5" x2="734.9" y2="827.5" stroke="#B2B2B2" stroke-width="1"/>
<line x1="741.42" y1="823.5" x2="741.42" y2="827.5" stroke="#B2B2B2" stroke-width="1"/>
<line x1="747.94" y1="823.5" x2="747.94" y2="827.5" stroke="#B2B2B2" stroke-width="1"/>
<line x1="754.47" y1="823.5" x2="754.47" y2="827.5" stroke="#B2B2B2" stroke-width="1"/>
<line x1="760.99" y1="823.5" x2="760.99" y2="827.5" stroke="#B2B2B2" stroke-width="1"/>
<line x1="767.51" y1="823.5" x2="767.51" y2="827.5" stroke="#B2B2B2" stroke-width="1"/>
<line x1="774.03" y1="823.5" x2="774.03" y2="827.5" stroke="#B2B2B2" stroke-width="1"/>
<line x1="780.56" y1="823.5" x2="780.56" y2="827.5" stroke="#B2B2B2" stroke-width="1"/>
<line x1="787.08" y1="823.5" x2="787.08" y2="827.5" stroke="#B2B2B2" stroke-width="1"/>
<line x1="793.6" y1="823.5" x2="793.6" y2="827.5" stroke="#B2B2B2" stroke-width="1"/>
<line x1="800.12" y1="823.5" x2="800.12" y2="827.5" stroke="#B2B2B2" stroke-width="1"/>
<line x1="806.65" y1="823.5" x2="806.65" y2="827.5" stroke="#B2B2B2" stroke-width="1"/>
<line x1="813.17" y1="823.5" x2="813.17" y2="827.5" stroke="#B2B2B2" stroke-width="1"/>
<line x1="819.69" y1="823.5" x2="819.69" y2="827.5" stroke="#B2B2B2" stroke-width="1"/>
<line x1="826.21" y1="823.5" x2="826.21" y2="827.5" stroke="#B2B2B2" stroke-width="1"/>
<line x1="832.74" y1="823.5" x2="832.74" y2="827.5" stroke="#B2B2B2" stroke-width="1"/>
<line x1="839.26" y1="823.5" x2="839.26" y2="827.5" stroke="#B2B2B2" stroke-width="1"/>
<line x1="845.78" y1="823.5" x2="845.78" y2="827.5" stroke="#B2B2B2" stroke-width="1"/>
<line x1="852.3" y1="823.5" x2="852.3" y2="827.5" stroke="#B2B2B2" stroke-width="1"/>
<line x1="858.82" y1="823.5" x2="858.82" y2="827.5" stroke="#B2B2B2" stroke-width="1"/>
<line x1="865.35" y1="823.5" x2="865.35" y2="827.5" stroke="#B2B2B2" stroke-width="1"/>
<line x1="871.87" y1="823.5" x2="871.87" y2="827.5" stroke="#B2B2B2" stroke-width="1"/>
<line x1="878.39" y1="823.5" x2="878.39" y2="827.5" stroke="#B2B2B2" stroke-width="1"/>
<line x1="884.91" y1="823.5" x2="884.91" y2="827.5" stroke="#B2B2B2" stroke-width="1"/>
<line x1="891.44" y1="823.5" x2="891.44" y2="827.5" stroke="#B2B2B2" stroke-width="1"/>
<line x1="897.96" y1="823.5" x2="897.96" y2="827.5" stroke="#B2B2B2" stroke-width="1"/>
<line x1="904.48" y1="823.5" x2="904.48" y2="827.5" stroke="#B2B2B2" stroke-width="1"/>
<line x1="911" y1="823.5" x2="911" y2="827.5" stroke="#B2B2B2" stroke-width="1"/>
<line x1="917.53" y1="823.5" x2="917.53" y2="827.5" stroke="#B2B2B2" stroke-width="1"/>
<line x1="924.05" y1="823.5" x2="924.05" y2="827.5" stroke="#B2B2B2" stroke-width="1"/>
<line x1="930.57" y1="823.5" x2="930.57" y2="827.5" stroke="#B2B2B2" stroke-width="1"/>
<line x1="937.09" y1="823.5" x2="937.09" y2="827.5" stroke="#B2B2B2" stroke-width="1"/>
<line x1="943.62" y1="823.5" x2="943.62" y2="827.5" stroke="#B2B2B2" stroke-width="1"/>
<line x1="950.14" y1="823.5" x2="950.14" y2="827.5" stroke="#B2B2B2" stroke-width="1"/>
<line x1="956.66" y1="823.5" x2="956.66" y2="827.5" stroke="#B2B2B2" stroke-width="1"/>
<line x1="963.18" y1="823.5" x2="963.18" y2="827.5" stroke="#B2B2B2" stroke-width="1"/>
<line x1="969.71" y1="823.5" x2="969.71" y2="827.5" stroke="#B2B2B2" stroke-width="1"/>
<line x1="976.23" y1="823.5" x2="976.23" y2="827.5" stroke="#B2B2B2" stroke-width="1"/>
<line x1="982.75" y1="823.5" x2="982.75" y2="827.5" stroke="#B2B2B2" stroke-width="1"/>
<polyline points="112.01,791.21 118.53,791.21 125.06,791.21 131.58,775.07 138.1,742.79 144.62,758.93 151.15,807.36 157.67,807.36 164.19,791.21 170.71,823.5 177.24,823.5 183.76,807.36 190.28,807.36 196.8,775.07 203.32,791.21 209.85,807.36 216.37,807.36 222.89,823.5 229.41,758.93 235.94,791.21 242.46,807.36 248.98,823.5 255.5,807.36 262.03,807.36 268.55,807.36 275.07,807.36 281.59,807.36 288.12,823.5 294.64,823.5 301.16,791.21 307.68,823.5 314.21,823.5 320.73,791.21 327.25,775.07 333.77,823.5 340.29,775.07 346.82,791.21 353.34,823.5 359.86,807.36 366.38,791.21 372.91,807.36 379.43,807.36 385.95,758.93 392.47,791.21 399,791.21 405.52,807.36 412.04,775.07 418.56,807.36 425.09,775.07 431.61,726.64 438.13,807.36 444.65,807.36 451.18,791.21 457.7,807.36 464.22,807.36 470.74,791.21 477.26,791.21 483.79,807.36 490.31,775.07 496.83,791.21 503.35,791.21 509.88,823.5 516.4,807.36 522.92,807.36 529.44,775.07 535.97,791.21 542.49,807.36 549.01,823.5 555.53,807.36 562.06,823.5 568.58,807.36 575.1,807.36 581.62,823.5 588.15,758.93 594.67,775.07 601.19,807.36 607.71,775.07 614.24,791.21 620.76,823.5 627.28,807.36 633.8,807.36 640.32,775.07 646.85,791.21 653.37,823.5 659.89,823.5 666.41,823.5 672.94,807.36 679.46,823.5 685.98,791.21 692.5,775.07 699.03,791.21 705.55,807.36 712.07,807.36 718.59,823.5 725.12,823.5 731.64,775.07 738.16,791.21 744.68,807.36 751.21,807.36 757.73,823.5 764.25,791.21 770.77,791.21 777.29,823.5 783.82,823.5 790.34,807.36 796.86,807.36 803.38,823.5 809.91,807.36 816.43,758.93 822.95,775.07 829.47,791.21 836,775.07 842.52,791.21 849.04,807.36 855.56,807.36 862.09,807.36 868.61,791.21 875.13,775.07 881.65,823.5 888.18,807.36 894.7,791.21 901.22,775.07 907.74,807.36 914.26,807.36 920.79,775.07 927.31,791.21 933.83,791.21 940.35,807.36 946.88,823.5 953.4,807.36 959.92,775.07 966.44,742.79 972.97,807.36 979.49,807.36" fill="none" stroke="#4A76AD" stroke-width="1.75" stroke-linejoin="round" stroke-linecap="round"/>
<polyline points="112.01,807.36 118.53,791.21 125.06,775.07 131.58,758.93 138.1,791.21 144.62,791.21 151.15,791.21 157.67,823.5 164.19,791.21 170.71,758.93 177.24,823.5 183.76,823.5 190.28,807.36 196.8,823.5 203.32,791.21 209.85,791.21 216.37,823.5 222.89,791.21 229.41,807.36 235.94,791.21 242.46,791.21 248.98,791.21 255.5,791.21 262.03,791.21 268.55,791.21 275.07,791.21 281.59,775.07 288.12,791.21 294.64,791.21 301.16,807.36 307.68,823.5 314.21,823.5 320.73,823.5 327.25,807.36 333.77,791.21 340.29,807.36 346.82,807.36 353.34,775.07 359.86,775.07 366.38,823.5 372.91,807.36 379.43,726.64 385.95,823.5 392.47,807.36 399,791.21 405.52,742.79 412.04,807.36 418.56,791.21 425.09,807.36 431.61,823.5 438.13,807.36 444.65,823.5 451.18,823.5 457.7,807.36 464.22,807.36 470.74,807.36 477.26,791.21 483.79,807.36 490.31,823.5 496.83,807.36 503.35,791.21 509.88,823.5 516.4,807.36 522.92,791.21 529.44,775.07 535.97,775.07 542.49,791.21 549.01,791.21 555.53,807.36 562.06,823.5 568.58,807.36 575.1,807.36 581.62,807.36 588.15,791.21 594.67,823.5 601.19,807.36 607.71,791.21 614.24,823.5 620.76,807.36 627.28,823.5 633.8,807.36 640.32,807.36 646.85,823.5 653.37,823.5 659.89,807.36 666.41,823.5 672.94,807.36 679.46,807.36 685.98,807.36 692.5,807.36 699.03,807.36 705.55,823.5 712.07,823.5 718.59,823.5 725.12,807.36 731.64,823.5 738.16,823.5 744.68,823.5 751.21,775.07 757.73,807.36 764.25,807.36 770.77,758.93 777.29,742.79 783.82,823.5 790.34,775.07 796.86,807.36 803.38,807.36 809.91,823.5 816.43,823.5 822.95,823.5 829.47,823.5 836,823.5 842.52,791.21 849.04,823.5 855.56,775.07 862.09,807.36 868.61,807.36 875.13,791.21 881.65,791.21 888.18,791.21 894.7,807.36 901.22,807.36 907.74,823.5 914.26,823.5 920.79,823.5 927.31,807.36 933.83,823.5 940.35,791.21 946.88,823.5 953.4,791.21 959.92,807.36 966.44,791.21 972.97,775.07 979.49,807.36" fill="none" stroke="#B64E4D" stroke-width="1.75" stroke-linejoin="round" stroke-linecap="round"/>
<text x="116.11" y="829.6" font-size="9.7" text-anchor="end" font-weight="normal" font-family="'Liberation Sans', 'Noto Sans CJK JP', sans-serif" fill="#1E1E1E" textLength="72.6" lengthAdjust="spacing" transform="rotate(-90 116.11 829.6)">2001/05/12(土)</text>
<text x="135.68" y="829.6" font-size="9.7" text-anchor="end" font-weight="normal" font-family="'Liberation Sans', 'Noto Sans CJK JP', sans-serif" fill="#1E1E1E" textLength="72.6" lengthAdjust="spacing" transform="rotate(-90 135.68 829.6)">2001/09/08(土)</text>
<text x="155.25" y="829.6" font-size="9.7" text-anchor="end" font-weight="normal" font-family="'Liberation Sans', 'Noto Sans CJK JP', sans-serif" fill="#1E1E1E" textLength="72.6" lengthAdjust="spacing" transform="rotate(-90 155.25 829.6)">2001/10/20(土)</text>
<text x="174.81" y="829.6" font-size="9.7" text-anchor="end" font-weight="normal" font-family="'Liberation Sans', 'Noto Sans CJK JP', sans-serif" fill="#1E1E1E" textLength="72.6" lengthAdjust="spacing" transform="rotate(-90 174.81 829.6)">2002/10/12(土)</text>
<text x="194.38" y="829.6" font-size="9.7" text-anchor="end" font-weight="normal" font-family="'Liberation Sans', 'Noto Sans CJK JP', sans-serif" fill="#1E1E1E" textLength="72.6" lengthAdjust="spacing" transform="rotate(-90 194.38 829.6)">2003/06/14(土)</text>
<text x="213.95" y="829.6" font-size="9.7" text-anchor="end" font-weight="normal" font-family="'Liberation Sans', 'Noto Sans CJK JP', sans-serif" fill="#1E1E1E" textLength="72.6" lengthAdjust="spacing" transform="rotate(-90 213.95 829.6)">2003/09/03(水)</text>
<text x="233.51" y="829.6" font-size="9.7" text-anchor="end" font-weight="normal" font-family="'Liberation Sans', 'Noto Sans CJK JP', sans-serif" fill="#1E1E1E" textLength="72.6" lengthAdjust="spacing" transform="rotate(-90 233.51 829.6)">2003/10/11(土)</text>
<text x="253.08" y="821" font-size="9.7" text-anchor="end" font-weight="normal" font-family="'Liberation Sans', 'Noto Sans CJK JP', sans-serif" fill="#1E1E1E" textLength="65.6" lengthAdjust="spacing" transform="rotate(-90 253.08 821)">2004/05/05(…</text>
<text x="272.65" y="829.6" font-size="9.7" text-anchor="end" font-weight="normal" font-family="'Liberation Sans', 'Noto Sans CJK JP', sans-serif" fill="#1E1E1E" textLength="72.6" lengthAdjust="spacing" transform="rotate(-90 272.65 829.6)">2004/06/27(日)</text>
<text x="292.22" y="829.6" font-size="9.7" text-anchor="end" font-weight="normal" font-family="'Liberation Sans', 'Noto Sans CJK JP', sans-serif" fill="#1E1E1E" textLength="72.6" lengthAdjust="spacing" transform="rotate(-90 292.22 829.6)">2004/08/25(水)</text>
<text x="311.78" y="829.6" font-size="9.7" text-anchor="end" font-weight="normal" font-family="'Liberation Sans', 'Noto Sans CJK JP', sans-serif" fill="#1E1E1E" textLength="72.6" lengthAdjust="spacing" transform="rotate(-90 311.78 829.6)">2004/10/02(土)</text>
<text x="331.35" y="829.6" font-size="9.7" text-anchor="end" font-weight="normal" font-family="'Liberation Sans', 'Noto Sans CJK JP', sans-serif" fill="#1E1E1E" textLength="72.6" lengthAdjust="spacing" transform="rotate(-90 331.35 829.6)">2005/05/28(土)</text>
<text x="350.92" y="829.6" font-size="9.7" text-anchor="end" font-weight="normal" font-family="'Liberation Sans', 'Noto Sans CJK JP', sans-serif" fill="#1E1E1E" textLength="72.6" lengthAdjust="spacing" transform="rotate(-90 350.92 829.6)">2005/08/13(土)</text>
<text x="370.48" y="829.6" font-size="9.7" text-anchor="end" font-weight="normal" font-family="'Liberation Sans', 'Noto Sans CJK JP', sans-serif" fill="#1E1E1E" textLength="72.6" lengthAdjust="spacing" transform="rotate(-90 370.48 829.6)">2005/10/01(土)</text>
<text x="390.05" y="829.6" font-size="9.7" text-anchor="end" font-weight="normal" font-family="'Liberation Sans', 'Noto Sans CJK JP', sans-serif" fill="#1E1E1E" textLength="72.6" lengthAdjust="spacing" transform="rotate(-90 390.05 829.6)">2006/06/24(土)</text>
<text x="409.62" y="829.6" font-size="9.7" text-anchor="end" font-weight="normal" font-family="'Liberation Sans', 'Noto Sans CJK JP', sans-serif" fill="#1E1E1E" textLength="72.6" lengthAdjust="spacing" transform="rotate(-90 409.62 829.6)">2006/07/29(土)</text>
<text x="429.19" y="829.6" font-size="9.7" text-anchor="end" font-weight="normal" font-family="'Liberation Sans', 'Noto Sans CJK JP', sans-serif" fill="#1E1E1E" textLength="72.6" lengthAdjust="spacing" transform="rotate(-90 429.19 829.6)">2006/09/13(水)</text>
<text x="448.75" y="829.6" font-size="9.7" text-anchor="end" font-weight="normal" font-family="'Liberation Sans', 'Noto Sans CJK JP', sans-serif" fill="#1E1E1E" textLength="72.6" lengthAdjust="spacing" transform="rotate(-90 448.75 829.6)">2007/05/06(日)</text>
<text x="468.32" y="829.6" font-size="9.7" text-anchor="end" font-weight="normal" font-family="'Liberation Sans', 'Noto Sans CJK JP', sans-serif" fill="#1E1E1E" textLength="72.6" lengthAdjust="spacing" transform="rotate(-90 468.32 829.6)">2007/07/07(土)</text>
<text x="487.89" y="829.6" font-size="9.7" text-anchor="end" font-weight="normal" font-family="'Liberation Sans', 'Noto Sans CJK JP', sans-serif" fill="#1E1E1E" textLength="72.6" lengthAdjust="spacing" transform="rotate(-90 487.89 829.6)">2007/07/28(土)</text>
<text x="507.45" y="829.6" font-size="9.7" text-anchor="end" font-weight="normal" font-family="'Liberation Sans', 'Noto Sans CJK JP', sans-serif" fill="#1E1E1E" textLength="72.6" lengthAdjust="spacing" transform="rotate(-90 507.45 829.6)">2008/07/05(土)</text>
<text x="527.02" y="829.6" font-size="9.7" text-anchor="end" font-weight="normal" font-family="'Liberation Sans', 'Noto Sans CJK JP', sans-serif" fill="#1E1E1E" textLength="72.6" lengthAdjust="spacing" transform="rotate(-90 527.02 829.6)">2008/08/09(土)</text>
<text x="546.59" y="829.6" font-size="9.7" text-anchor="end" font-weight="normal" font-family="'Liberation Sans', 'Noto Sans CJK JP', sans-serif" fill="#1E1E1E" textLength="72.6" lengthAdjust="spacing" transform="rotate(-90 546.59 829.6)">2008/09/28(日)</text>
<text x="566.16" y="829.6" font-size="9.7" text-anchor="end" font-weight="normal" font-family="'Liberation Sans', 'Noto Sans CJK JP', sans-serif" fill="#1E1E1E" textLength="72.6" lengthAdjust="spacing" transform="rotate(-90 566.16 829.6)">2009/05/30(土)</text>
<text x="585.72" y="829.6" font-size="9.7" text-anchor="end" font-weight="normal" font-family="'Liberation Sans', 'Noto Sans CJK JP', sans-serif" fill="#1E1E1E" textLength="72.6" lengthAdjust="spacing" transform="rotate(-90 585.72 829.6)">2009/07/11(土)</text>
<text x="605.29" y="829.6" font-size="9.7" text-anchor="end" font-weight="normal" font-family="'Liberation Sans', 'Noto Sans CJK JP', sans-serif" fill="#1E1E1E" textLength="72.6" lengthAdjust="spacing" transform="rotate(-90 605.29 829.6)">2009/09/02(水)</text>
<text x="624.86" y="829.6" font-size="9.7" text-anchor="end" font-weight="normal" font-family="'Liberation Sans', 'Noto Sans CJK JP', sans-serif" fill="#1E1E1E" textLength="72.6" lengthAdjust="spacing" transform="rotate(-90 624.86 829.6)">2009/10/07(水)</text>
<text x="644.42" y="829.6" font-size="9.7" text-anchor="end" font-weight="normal" font-family="'Liberation Sans', 'Noto Sans CJK JP', sans-serif" fill="#1E1E1E" textLength="72.6" lengthAdjust="spacing" transform="rotate(-90 644.42 829.6)">2010/05/30(日)</text>
<text x="663.99" y="829.6" font-size="9.7" text-anchor="end" font-weight="normal" font-family="'Liberation Sans', 'Noto Sans CJK JP', sans-serif" fill="#1E1E1E" textLength="72.6" lengthAdjust="spacing" transform="rotate(-90 663.99 829.6)">2010/09/19(日)</text>
<text x="683.56" y="829.6" font-size="9.7" text-anchor="end" font-weight="normal" font-family="'Liberation Sans', 'Noto Sans CJK JP', sans-serif" fill="#1E1E1E" textLength="72.6" lengthAdjust="spacing" transform="rotate(-90 683.56 829.6)">2010/10/31(日)</text>
<text x="703.13" y="829.6" font-size="9.7" text-anchor="end" font-weight="normal" font-family="'Liberation Sans', 'Noto Sans CJK JP', sans-serif" fill="#1E1E1E" textLength="72.6" lengthAdjust="spacing" transform="rotate(-90 703.13 829.6)">2011/07/16(土)</text>
<text x="722.69" y="829.6" font-size="9.7" text-anchor="end" font-weight="normal" font-family="'Liberation Sans', 'Noto Sans CJK JP', sans-serif" fill="#1E1E1E" textLength="72.6" lengthAdjust="spacing" transform="rotate(-90 722.69 829.6)">2011/09/24(土)</text>
<text x="742.26" y="829.6" font-size="9.7" text-anchor="end" font-weight="normal" font-family="'Liberation Sans', 'Noto Sans CJK JP', sans-serif" fill="#1E1E1E" textLength="72.6" lengthAdjust="spacing" transform="rotate(-90 742.26 829.6)">2011/11/12(土)</text>
<text x="761.83" y="829.6" font-size="9.7" text-anchor="end" font-weight="normal" font-family="'Liberation Sans', 'Noto Sans CJK JP', sans-serif" fill="#1E1E1E" textLength="72.6" lengthAdjust="spacing" transform="rotate(-90 761.83 829.6)">2012/07/07(土)</text>
<text x="781.39" y="821" font-size="9.7" text-anchor="end" font-weight="normal" font-family="'Liberation Sans', 'Noto Sans CJK JP', sans-serif" fill="#1E1E1E" textLength="65.6" lengthAdjust="spacing" transform="rotate(-90 781.39 821)">2012/09/22(…</text>
<text x="800.96" y="829.6" font-size="9.7" text-anchor="end" font-weight="normal" font-family="'Liberation Sans', 'Noto Sans CJK JP', sans-serif" fill="#1E1E1E" textLength="72.6" lengthAdjust="spacing" transform="rotate(-90 800.96 829.6)">2013/05/19(日)</text>
<text x="820.53" y="829.6" font-size="9.7" text-anchor="end" font-weight="normal" font-family="'Liberation Sans', 'Noto Sans CJK JP', sans-serif" fill="#1E1E1E" textLength="72.6" lengthAdjust="spacing" transform="rotate(-90 820.53 829.6)">2013/06/22(土)</text>
<text x="840.1" y="829.6" font-size="9.7" text-anchor="end" font-weight="normal" font-family="'Liberation Sans', 'Noto Sans CJK JP', sans-serif" fill="#1E1E1E" textLength="72.6" lengthAdjust="spacing" transform="rotate(-90 840.1 829.6)">2013/08/21(水)</text>
<text x="859.66" y="829.6" font-size="9.7" text-anchor="end" font-weight="normal" font-family="'Liberation Sans', 'Noto Sans CJK JP', sans-serif" fill="#1E1E1E" textLength="72.6" lengthAdjust="spacing" transform="rotate(-90 859.66 829.6)">2013/10/06(日)</text>
<text x="879.23" y="829.6" font-size="9.7" text-anchor="end" font-weight="normal" font-family="'Liberation Sans', 'Noto Sans CJK JP', sans-serif" fill="#1E1E1E" textLength="72.6" lengthAdjust="spacing" transform="rotate(-90 879.23 829.6)">2014/06/28(土)</text>
<text x="898.8" y="829.6" font-size="9.7" text-anchor="end" font-weight="normal" font-family="'Liberation Sans', 'Noto Sans CJK JP', sans-serif" fill="#1E1E1E" textLength="72.6" lengthAdjust="spacing" transform="rotate(-90 898.8 829.6)">2015/10/10(土)</text>
<text x="918.36" y="829.6" font-size="9.7" text-anchor="end" font-weight="normal" font-family="'Liberation Sans', 'Noto Sans CJK JP', sans-serif" fill="#1E1E1E" textLength="72.6" lengthAdjust="spacing" transform="rotate(-90 918.36 829.6)">2017/08/26(土)</text>
<text x="937.93" y="821" font-size="9.7" text-anchor="end" font-weight="normal" font-family="'Liberation Sans', 'Noto Sans CJK JP', sans-serif" fill="#1E1E1E" textLength="65.6" lengthAdjust="spacing" transform="rotate(-90 937.93 821)">2018/05/05(…</text>
<text x="957.5" y="829.6" font-size="9.7" text-anchor="end" font-weight="normal" font-family="'Liberation Sans', 'Noto Sans CJK JP', sans-serif" fill="#1E1E1E" textLength="72.6" lengthAdjust="spacing" transform="rotate(-90 957.5 829.6)">2018/11/10(土)</text>
<text x="977.07" y="829.6" font-size="9.7" text-anchor="end" font-weight="normal" font-family="'Liberation Sans', 'Noto Sans CJK JP', sans-serif" fill="#1E1E1E" textLength="72.6" lengthAdjust="spacing" transform="rotate(-90 977.07 829.6)">2019/09/14(土)</text>
<rect x="851.2" y="687.7" width="130" height="43.5" fill="#FFFFFF" stroke="#6381A8" stroke-width="1.4"/>
<line x1="860" y1="701.7" x2="892.7" y2="701.7" stroke="#4B70A5" stroke-width="2.7"/>
<line x1="860" y1="717.3" x2="892.7" y2="717.3" stroke="#AE5452" stroke-width="2.7"/>
<text x="907.2" y="707.65" font-size="12.3" text-anchor="start" font-weight="500" font-family="'Liberation Sans', 'Noto Sans CJK JP', sans-serif" fill="#1E1E1E" textLength="27.82" lengthAdjust="spacingAndGlyphs">得点</text>
<text x="909" y="725.35" font-size="12.3" text-anchor="start" font-weight="500" font-family="'Liberation Sans', 'Noto Sans CJK JP', sans-serif" fill="#1E1E1E" textLength="28.47" lengthAdjust="spacingAndGlyphs">失点</text>
<text x="3" y="699.65" font-size="12.8" text-anchor="start" font-weight="bold" font-family="'Liberation Sans', 'Noto Sans CJK JP', sans-serif" fill="#1E1E1E" textLength="162.6" lengthAdjust="spacingAndGlyphs">本スタジアム得失点(札幌)</text>
<text x="202.4" y="699.65" font-size="12.8" text-anchor="start" font-weight="bold" font-family="'Liberation Sans', 'Noto Sans CJK JP', sans-serif" fill="#1E1E1E" textLength="228.8" lengthAdjust="spacingAndGlyphs">1試合あたり得点率:1.52失点率:1.27</text>
<rect x="43.75" y="930.5" width="948.75" height="188.3" fill="#FFFFFF" stroke="rgba(0,0,0,0.31)" stroke-width="1.2"/>
<line x1="106" y1="1037" x2="983.75" y2="1037" stroke="#B2B2B2" stroke-width="1.4"/>
<text x="99.4" y="1040.6" font-size="10" text-anchor="end" font-weight="normal" font-family="'Liberation Sans', 'Noto Sans CJK JP', sans-serif" fill="#1E1E1E" stroke="#444" stroke-width="0.12">0</text>
<line x1="106" y1="1017.1" x2="983.75" y2="1017.1" stroke="#B2B2B2" stroke-width="1.4"/>
<text x="99.4" y="1020.7" font-size="10" text-anchor="end" font-weight="normal" font-family="'Liberation Sans', 'Noto Sans CJK JP', sans-serif" fill="#1E1E1E" stroke="#444" stroke-width="0.12">1</text>
<line x1="106" y1="997.2" x2="983.75" y2="997.2" stroke="#B2B2B2" stroke-width="1.4"/>
<text x="99.4" y="1000.8" font-size="10" text-anchor="end" font-weight="normal" font-family="'Liberation Sans', 'Noto Sans CJK JP', sans-serif" fill="#1E1E1E" stroke="#444" stroke-width="0.12">2</text>
<line x1="106" y1="977.3" x2="983.75" y2="977.3" stroke="#B2B2B2" stroke-width="1.4"/>
<text x="99.4" y="980.9" font-size="10" text-anchor="end" font-weight="normal" font-family="'Liberation Sans', 'Noto Sans CJK JP', sans-serif" fill="#1E1E1E" stroke="#444" stroke-width="0.12">3</text>
<line x1="106" y1="957.4" x2="983.75" y2="957.4" stroke="#B2B2B2" stroke-width="1.4"/>
<text x="99.4" y="961" font-size="10" text-anchor="end" font-weight="normal" font-family="'Liberation Sans', 'Noto Sans CJK JP', sans-serif" fill="#1E1E1E" stroke="#444" stroke-width="0.12">4</text>
<line x1="106" y1="937.5" x2="983.75" y2="937.5" stroke="#B2B2B2" stroke-width="1.4"/>
<text x="99.4" y="941.1" font-size="10" text-anchor="end" font-weight="normal" font-family="'Liberation Sans', 'Noto Sans CJK JP', sans-serif" fill="#1E1E1E" stroke="#444" stroke-width="0.12">5</text>
<line x1="110" y1="937.5" x2="110" y2="1041" stroke="#B2B2B2" stroke-width="1.4"/>
<line x1="110" y1="1037" x2="110" y2="1041" stroke="#B2B2B2" stroke-width="1"/>
<line x1="401.25" y1="1037" x2="401.25" y2="1041" stroke="#B2B2B2" stroke-width="1"/>
<line x1="692.5" y1="1037" x2="692.5" y2="1041" stroke="#B2B2B2" stroke-width="1"/>
<line x1="983.75" y1="1037" x2="983.75" y2="1041" stroke="#B2B2B2" stroke-width="1"/>
<polyline points="255.62,997.2 546.88,997.2 838.12,977.3" fill="none" stroke="#4A76AD" stroke-width="1.85" stroke-linejoin="round" stroke-linecap="round"/>
<polyline points="255.62,957.4 546.88,1017.1 838.12,1017.1" fill="none" stroke="#B64E4D" stroke-width="1.85" stroke-linejoin="round" stroke-linecap="round"/>
<text x="256.82" y="1055.6" font-size="9.7" text-anchor="middle" font-weight="normal" font-family="'Liberation Sans', 'Noto Sans CJK JP', sans-serif" fill="#1E1E1E" textLength="73.2" lengthAdjust="spacing">2001/10/17(水)</text>
<text x="548.08" y="1055.6" font-size="9.7" text-anchor="middle" font-weight="normal" font-family="'Liberation Sans', 'Noto Sans CJK JP', sans-serif" fill="#1E1E1E" textLength="73.2" lengthAdjust="spacing">2003/09/03(水)</text>
<text x="839.33" y="1055.6" font-size="9.7" text-anchor="middle" font-weight="normal" font-family="'Liberation Sans', 'Noto Sans CJK JP', sans-serif" fill="#1E1E1E" textLength="73.2" lengthAdjust="spacing">2012/05/26(土)</text>
<rect x="860.5" y="920" width="130" height="43.5" fill="#FFFFFF" stroke="#6381A8" stroke-width="1.4"/>
<line x1="869.3" y1="934" x2="902" y2="934" stroke="#4B70A5" stroke-width="2.7"/>
<line x1="869.3" y1="949.6" x2="902" y2="949.6" stroke="#AE5452" stroke-width="2.7"/>
<text x="916.6" y="940.05" font-size="12.3" text-anchor="start" font-weight="500" font-family="'Liberation Sans', 'Noto Sans CJK JP', sans-serif" fill="#1E1E1E" textLength="27.82" lengthAdjust="spacingAndGlyphs">得点</text>
<text x="918.4" y="957.75" font-size="12.3" text-anchor="start" font-weight="500" font-family="'Liberation Sans', 'Noto Sans CJK JP', sans-serif" fill="#1E1E1E" textLength="28.51" lengthAdjust="spacingAndGlyphs">失点</text>
<text x="3" y="924.2" font-size="12.8" text-anchor="start" font-weight="bold" font-family="'Liberation Sans', 'Noto Sans CJK JP', sans-serif" fill="#1E1E1E" textLength="161.4" lengthAdjust="spacingAndGlyphs">本スタジアム得失点(広島)</text>
<text x="202.4" y="924.2" font-size="12.8" text-anchor="start" font-weight="bold" font-family="'Liberation Sans', 'Noto Sans CJK JP', sans-serif" fill="#1E1E1E" textLength="210.81" lengthAdjust="spacingAndGlyphs">1試合あたり得点率:2.33失点率:2</text>
</svg>
</body></html>
